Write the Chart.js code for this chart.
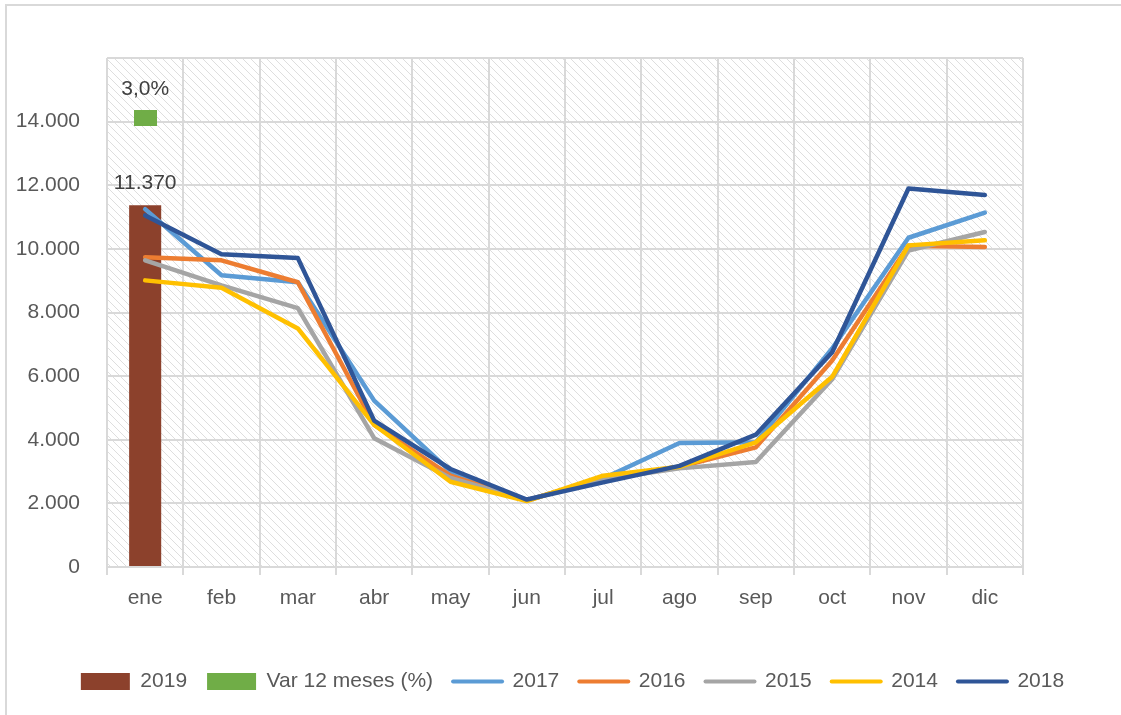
<!DOCTYPE html>
<html>
<head>
<meta charset="utf-8">
<script src="https://cdn.jsdelivr.net/npm/chart.js@4.4.1/dist/chart.umd.min.js"></script>
<style>
  html, body { margin: 0; padding: 0; background: #fff; }
  #wrap { width: 1121px; height: 715px; }
</style>
</head>
<body>
<div id="wrap"><canvas id="chart" width="1121" height="715"></canvas></div>
<script>
// Data
var months = ['ene', 'feb', 'mar', 'abr', 'may', 'jun', 'jul', 'ago', 'sep', 'oct', 'nov', 'dic'];
var v2019 = [11370, null, null, null, null, null, null, null, null, null, null, null];
var var12 = [3.0, null, null, null, null, null, null, null, null, null, null, null];
var v2017 = [11250, 9170, 8950, 5230, 3000, 2100, 2780, 3900, 3920, 6870, 10350, 11140];
var v2016 = [9740, 9640, 8950, 4470, 2870, 2090, 2800, 3150, 3760, 6490, 10100, 10060];
var v2015 = [9640, 8850, 8140, 4050, 2800, 2100, 2750, 3100, 3300, 5900, 9950, 10530];
var v2014 = [9010, 8780, 7500, 4470, 2680, 2070, 2870, 3150, 3920, 5980, 10110, 10270];
var v2018 = [11050, 9830, 9710, 4600, 3080, 2120, 2660, 3180, 4160, 6750, 11900, 11690];
var yTicks = [0, 2000, 4000, 6000, 8000, 10000, 12000, 14000];

var fontFamily = "'Liberation Sans', Arial, sans-serif";
var textColor = '#595959';
var gridColor = '#d9d9d9';

function fmt(n) {
    return n.toString().replace(/\B(?=(\d{3})+(?!\d))/g, '.');
}

/* hatch fill of the plot area */
var pat = document.createElement('canvas');
pat.width = 8; pat.height = 8;
var pc = pat.getContext('2d');
pc.fillStyle = '#ffffff';
pc.fillRect(0, 0, 8, 8);
pc.strokeStyle = '#dedede';
pc.lineWidth = 1;
pc.beginPath();
pc.moveTo(-1, -1); pc.lineTo(9, 9);
pc.moveTo(-1, 7); pc.lineTo(1, 9);
pc.moveTo(7, -1); pc.lineTo(9, 1);
pc.stroke();

/* green marker for the % series */
var mark = document.createElement('canvas');
mark.width = 23; mark.height = 16;
var mc = mark.getContext('2d');
mc.fillStyle = '#70ad47';
mc.fillRect(0, 0, 23, 16);

var backPlugin = {
    id: 'back',
    afterLayout: function(chart) {
        // legend sits a little right of centre in the original
        chart.legend.left += 9;
        chart.legend.right += 9;
    },
    beforeDraw: function(chart) {
        var ctx = chart.ctx, a = chart.chartArea;
        ctx.save();
        ctx.fillStyle = '#ffffff';
        ctx.fillRect(0, 0, chart.width, chart.height);
        // frame
        ctx.strokeStyle = gridColor;
        ctx.lineWidth = 2;
        ctx.beginPath();
        ctx.moveTo(6, chart.height);
        ctx.lineTo(6, 5);
        ctx.lineTo(chart.width, 5);
        ctx.stroke();
        ctx.fillStyle = ctx.createPattern(pat, 'repeat');
        ctx.fillRect(a.left, a.top, a.right - a.left, a.bottom - a.top);
        ctx.restore();
    }
};

var labelPlugin = {
    id: 'labels',
    afterDatasetsDraw: function(chart) {
        var ctx = chart.ctx;
        ctx.save();
        ctx.font = '21px ' + fontFamily;
        ctx.fillStyle = '#404040';
        ctx.textAlign = 'center';
        ctx.textBaseline = 'alphabetic';
        var bar = chart.getDatasetMeta(0).data[0];
        ctx.fillText(fmt(v2019[0]), bar.x, bar.y - 16);
        var pt = chart.getDatasetMeta(1).data[0];
        ctx.fillText(var12[0].toFixed(1).replace('.', ',') + '%', pt.x, pt.y - 23);
        ctx.restore();
    }
};

function lineSet(label, data, color, order) {
    return {
        type: 'line',
        label: label,
        data: data,
        borderColor: color,
        backgroundColor: color,
        borderWidth: 4.5,
        pointRadius: 0,
        borderCapStyle: 'round',
        borderJoinStyle: 'round',
        tension: 0,
        order: order
    };
}

var ctx = document.getElementById('chart').getContext('2d');
var chart = new Chart(ctx, {
    type: 'bar',
    data: {
        labels: months,
        datasets: [
            {
                label: '2019',
                data: v2019,
                backgroundColor: '#8c412c',
                borderWidth: 0,
                categoryPercentage: 1,
                barPercentage: 0.42,
                order: 10
            },
            {
                type: 'line',
                label: 'Var 12 meses (%)',
                data: var12,
                yAxisID: 'y2',
                showLine: false,
                pointStyle: mark,
                pointRadius: 10,
                backgroundColor: '#70ad47',
                borderColor: '#70ad47',
                order: 9
            },
            lineSet('2017', v2017, '#5b9bd5', 5),
            lineSet('2016', v2016, '#ed7d31', 4),
            lineSet('2015', v2015, '#a5a5a5', 3),
            lineSet('2014', v2014, '#ffc000', 2),
            lineSet('2018', v2018, '#2f5597', 1)
        ]
    },
    options: {
        responsive: false,
        animation: false,
        layout: { padding: { left: 6, right: 0, top: 58, bottom: 13 } },
        plugins: {
            tooltip: { enabled: false },
            legend: {
                position: 'bottom',
                labels: {
                    font: { family: fontFamily, size: 21 },
                    color: textColor,
                    usePointStyle: true,
                    pointStyleWidth: 49,
                    boxHeight: 17,
                    padding: 20,
                    generateLabels: function(chart) {
                        return chart.data.datasets.map(function(ds, i) {
                            var isLine = ds.type === 'line' && ds.showLine !== false;
                            return {
                                text: ds.label,
                                datasetIndex: i,
                                fillStyle: ds.backgroundColor,
                                strokeStyle: ds.borderColor,
                                lineWidth: isLine ? 4 : 0,
                                lineCap: 'round',
                                pointStyle: isLine ? 'line' : 'rect',
                                fontColor: textColor,
                                hidden: false
                            };
                        });
                    }
                }
            }
        },
        scales: {
            x: {
                offset: true,
                grid: {
                    offset: true,
                    color: gridColor,
                    lineWidth: 2,
                    drawTicks: true,
                    tickLength: 8
                },
                border: { display: false },
                ticks: {
                    font: { family: fontFamily, size: 21 },
                    color: textColor,
                    padding: 11
                },
                afterFit: function(scale) { scale.height = 84; }
            },
            y: {
                min: 0,
                max: 16000,
                afterBuildTicks: function(scale) {
                    scale.ticks = yTicks.concat([16000]).map(function(v) { return { value: v }; });
                },
                grid: { color: gridColor, lineWidth: 2, drawTicks: false },
                border: { display: false },
                ticks: {
                    font: { family: fontFamily, size: 21 },
                    color: textColor,
                    padding: 27,
                    callback: function(v) { return yTicks.indexOf(v) >= 0 ? fmt(v) : ''; }
                },
                afterFit: function(scale) { scale.width = 101; }
            },
            y2: {
                position: 'right',
                min: 0,
                max: 3.4,
                grid: { display: false, drawOnChartArea: false },
                border: { display: false },
                ticks: { display: false },
                afterFit: function(scale) { scale.width = 98; }
            }
        }
    },
    plugins: [backPlugin, labelPlugin]
});
</script>
</body>
</html>
